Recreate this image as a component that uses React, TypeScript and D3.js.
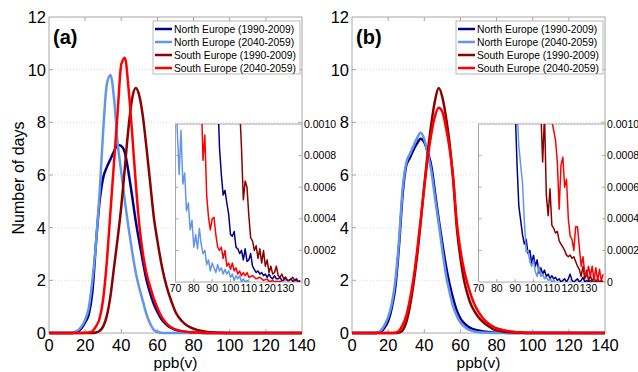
import { useEffect, useRef } from 'react';
import * as d3 from 'd3';

const seriesNames = [
  'North Europe (1990-2009)',
  'North Europe (2040-2059)',
  'South Europe (1990-2009)',
  'South Europe (2040-2059)',
];
const seriesColors = ['#00008b', '#6495ed', '#8b0000', '#ff0000'];

const xTicks = [0, 20, 40, 60, 80, 100, 120, 140];
const yTicks = [0, 2, 4, 6, 8, 10, 12];
const insetXTicks = [70, 80, 90, 100, 110, 120, 130];
const insetYTicks = [0, 2, 4, 6, 8, 10]; // in units of 1e-4
const insetYLabels = ['0', '0.0002', '0.0004', '0.0006', '0.0008', '0.0010'];

// ppb(v) grid of the main curves: 0, 12, 14, ..., 98, 140
const densityPpb = [0, ...d3.range(12, 100, 2), 140];

// panel (a) – number of days
const northPastA = [0,
  0, 0.02, 0.06, 0.18, 0.4, 0.7, 1.55, 3.4, 5.0, 5.9,
  6.3, 6.6, 6.9, 7.15, 7.1, 6.85, 6.1, 5.2, 4.25, 3.45,
  2.7, 2.0, 1.5, 1.1, 0.8, 0.55, 0.38, 0.26, 0.18, 0.12,
  0.08, 0.05, 0.035, 0.02, 0.015, 0.01, 0.005, 0, 0, 0,
  0, 0, 0, 0, 0];
const northFutureA = [0,
  0, 0.03, 0.1, 0.25, 0.5, 0.95, 2.0, 3.4, 5.3, 7.7,
  9.45, 9.8, 8.9, 7.2, 6.1, 5.0, 4.0, 3.1, 2.3, 1.7,
  1.2, 0.7, 0.35, 0.12, 0.04, 0.01, 0, 0, 0, 0,
  0, 0, 0, 0, 0, 0, 0, 0, 0, 0,
  0, 0, 0, 0, 0];
const southPastA = [0,
  0, 0, 0, 0, 0, 0, 0, 0.02, 0.08, 0.25,
  0.65, 1.4, 2.5, 3.6, 4.8, 6.3, 7.8, 8.9, 9.3, 9.0,
  8.2, 7.0, 5.7, 4.4, 3.5, 2.7, 2.05, 1.55, 1.15, 0.8,
  0.58, 0.42, 0.3, 0.22, 0.16, 0.12, 0.09, 0.06, 0.04, 0.025,
  0.015, 0.01, 0.005, 0, 0];
const southFutureA = [0,
  0, 0, 0, 0, 0.005, 0.02, 0.07, 0.25, 0.55, 1.3,
  2.7, 4.6, 6.5, 8.4, 10.2, 10.45, 9.3, 7.6, 5.7, 4.1,
  3.0, 2.25, 1.75, 1.3, 0.95, 0.65, 0.45, 0.3, 0.2, 0.14,
  0.1, 0.07, 0.05, 0.03, 0.02, 0.015, 0.01, 0.005, 0, 0,
  0, 0, 0, 0, 0];

// panel (b) – number of days
const northPastB = [0,
  0, 0.01, 0.05, 0.2, 0.45, 0.95, 1.75, 3.3, 5.25, 6.35,
  6.65, 6.95, 7.2, 7.38, 7.25, 6.85, 6.3, 5.3, 4.3, 3.4,
  2.55, 1.85, 1.3, 0.85, 0.55, 0.38, 0.26, 0.18, 0.13, 0.1,
  0.07, 0.05, 0.035, 0.02, 0.013, 0.008, 0.005, 0.002, 0, 0,
  0, 0, 0, 0, 0];
const northFutureB = [0,
  0, 0.02, 0.1, 0.3, 0.6, 1.1, 2.0, 3.5, 5.45, 6.45,
  6.8, 7.1, 7.4, 7.6, 7.35, 6.8, 6.1, 5.1, 4.15, 3.15,
  2.2, 1.55, 1.0, 0.65, 0.4, 0.25, 0.15, 0.09, 0.05, 0.03,
  0.02, 0.012, 0.006, 0.003, 0, 0, 0, 0, 0, 0,
  0, 0, 0, 0, 0];
const southPastB = [0,
  0, 0, 0, 0, 0, 0, 0, 0.02, 0.1, 0.4,
  1.0, 1.85, 2.9, 4.2, 5.6, 6.9, 8.0, 8.85, 9.3, 8.95,
  8.2, 7.2, 5.8, 4.0, 2.85, 2.0, 1.45, 1.05, 0.8, 0.6,
  0.45, 0.33, 0.24, 0.15, 0.1, 0.075, 0.05, 0.035, 0.025, 0.02,
  0.012, 0.008, 0.004, 0, 0];
const southFutureB = [0,
  0, 0, 0, 0, 0, 0, 0.01, 0.08, 0.3, 0.65,
  1.25, 2.05, 3.1, 4.3, 5.55, 6.7, 7.6, 8.25, 8.55, 8.4,
  7.8, 7.0, 5.9, 4.2, 3.15, 2.4, 1.85, 1.4, 1.05, 0.8,
  0.6, 0.45, 0.33, 0.25, 0.18, 0.14, 0.11, 0.08, 0.06, 0.04,
  0.03, 0.02, 0.012, 0.006, 0];

// insets: tail values (x1e-4), one value per ppb(v) starting at the given ppb
const insetStartA = [93, 70, 104, 84];
const insetNorthPastA = [12, 8.5, 6.8, 5.5, 5.8, 5.0, 4.3, 3.0, 2.9, 3.2, 2.2, 2.1, 1.8, 2.0, 1.4, 2.1, 1.3, 1.4, 1.8, 1.0,
  0.8, 0.6, 0.7, 0.5, 0.6, 0.4, 0.5, 0.3, 0.5, 0.3, 0.2, 0.4, 0.2, 0.2, 0.3, 0.1, 0.1, 0.3, 0.1, 0.1,
  0.2, 0.05, 0.1, 0.2, 0, 0.1];
const insetNorthFutureA = [13, 9.5, 6.8, 9.6, 6.2, 6.9, 4.5, 5.0, 3.3, 3.9, 2.2, 3.0, 2.1, 3.4, 2.4, 1.8, 2.0, 1.1, 1.4, 0.7,
  1.2, 0.9, 0.6, 1.1, 0.7, 0.9, 0.5, 0.8, 0.5, 0.7, 0.3, 0.5, 0.1, 0.4, 0.2, 0.4, 0, 0.2, 0, 0.1, 0];
const insetSouthPastA = [14, 11, 8.5, 5.2, 6.4, 6.0, 4.2, 2.8, 2.6, 2.0, 2.3, 1.5, 2.1, 1.2, 2.0, 1.0, 1.4, 0.6, 1.0, 0.5,
  0.6, 1.0, 0.4, 0.3, 0.5, 0.2, 0.3, 0.1, 0.1, 0.2, 0.3, 0.1, 0.1, 0, 0];
const insetSouthFutureA = [12, 7.7, 9.3, 5.5, 4.1, 3.3, 4.0, 4.1, 3.0, 2.2, 2.0, 2.2, 1.5, 2.0, 1.0, 1.2, 0.8, 1.2, 0.7, 0.9,
  0.5, 0.7, 0.4, 0.6, 0.4, 0.6, 0.3, 0.35, 0.4, 0.3, 0.2, 0.25, 0.3, 0.2, 0.1, 0.15, 0.2, 0.05, 0.05, 0.1,
  0, 0.05, 0, 0.05, 0];

const insetStartB = [90, 91, 104, 110];
const insetNorthPastB = [11, 7.5, 4.8, 3.9, 3.0, 2.4, 2.7, 1.8, 2.0, 1.2, 1.7, 1.0, 1.4, 0.55, 0.9, 0.5, 0.75, 0.35, 0.5, 0.2,
  0.4, 0.2, 0.3, 0.1, 0.2, 0, 0.1, 0.2, 0, 0.2, 0.5, 0.1, 0, 0.1, 0.2, 0, 0.1, 0.3, 0, 0.1,
  0, 0.1, 0, 0, 0, 0, 0, 0, 0];
const insetNorthFutureB = [11, 8.6, 7.4, 6.3, 3.9, 1.9, 2.0, 1.3, 1.0, 1.4, 0.65, 0.35, 1.0, 0.35, 0.5, 0.2, 0.3, 0.1, 0.2, 0,
  0.1, 0];
const insetSouthPastB = [10.8, 7.6, 10.6, 5.5, 4.2, 5.9, 3.6, 3.4, 3.1, 3.2, 2.6, 2.4, 2.2, 2.0, 1.7, 1.6, 1.7, 1.5, 1.6, 1.3,
  1.0, 0.8, 0.35, 1.0, 0.2, 0.75, 0.1, 0.4, 0.05, 0.3, 0, 0.2, 0, 0.1, 0];
const insetSouthFutureB = [10.2, 9.6, 9.0, 7.6, 4.6, 7.4, 7.9, 6.0, 6.5, 4.0, 2.9, 2.7, 2.0, 3.5, 3.5, 2.2, 1.0, 1.6, 0.5, 0.35,
  1.0, 0.35, 1.0, 0.1, 0.9, 0.1, 0.8, 0.1, 0.5];

const panels = [
  {
    label: '(a)',
    left: 49,
    curves: [northPastA, northFutureA, southPastA, southFutureA],
    insetStarts: insetStartA,
    inset: [insetNorthPastA, insetNorthFutureA, insetSouthPastA, insetSouthFutureA],
  },
  {
    label: '(b)',
    left: 352,
    curves: [northPastB, northFutureB, southPastB, southFutureB],
    insetStarts: insetStartB,
    inset: [insetNorthPastB, insetNorthFutureB, insetSouthPastB, insetSouthFutureB],
  },
];

const font = '"Liberation Sans", Arial, Helvetica, sans-serif';
const frameColor = '#a8a8a8';

export default function App() {
  const svgRef = useRef<SVGSVGElement>(null);

  useEffect(() => {
    if (!svgRef.current) return;
    const svg = d3.select(svgRef.current);
    svg.selectAll('*').remove();

    const plotW = 253;
    const top = 17;
    const bottom = 333;

    panels.forEach((p, pi) => {
      const x = d3.scaleLinear().domain([0, 140]).range([p.left, p.left + plotW]);
      const y = d3.scaleLinear().domain([0, 12]).range([bottom, top]);
      const g = svg.append('g');

      // grid
      g.selectAll('line.grid')
        .data(yTicks.slice(1, -1))
        .join('line')
        .attr('x1', x(0)).attr('x2', x(140))
        .attr('y1', d => y(d)).attr('y2', d => y(d))
        .attr('stroke', '#d9d9d9')
        .attr('stroke-dasharray', '1,2');

      // frame
      g.append('rect')
        .attr('x', x(0)).attr('y', y(12))
        .attr('width', x(140) - x(0)).attr('height', y(0) - y(12))
        .attr('fill', 'none').attr('stroke', frameColor);

      // inward ticks
      xTicks.slice(1, -1).forEach(t => {
        g.append('line').attr('x1', x(t)).attr('x2', x(t)).attr('y1', y(0)).attr('y2', y(0) - 4).attr('stroke', frameColor);
        g.append('line').attr('x1', x(t)).attr('x2', x(t)).attr('y1', y(12)).attr('y2', y(12) + 4).attr('stroke', frameColor);
      });
      yTicks.slice(1, -1).forEach(t => {
        g.append('line').attr('x1', x(0)).attr('x2', x(0) + 4).attr('y1', y(t)).attr('y2', y(t)).attr('stroke', frameColor);
        g.append('line').attr('x1', x(140)).attr('x2', x(140) - 4).attr('y1', y(t)).attr('y2', y(t)).attr('stroke', frameColor);
      });

      // tick labels
      g.selectAll('text.xt')
        .data(xTicks)
        .join('text')
        .attr('x', d => x(d)).attr('y', y(0) + 18)
        .attr('text-anchor', 'middle')
        .attr('font-family', font).attr('font-size', 16.5)
        .text(d => d);
      g.selectAll('text.yt')
        .data(yTicks)
        .join('text')
        .attr('x', x(0) - 3).attr('y', d => y(d) + 6)
        .attr('text-anchor', 'end')
        .attr('font-family', font).attr('font-size', 16.5)
        .text(d => d);

      g.append('text')
        .attr('x', (x(0) + x(140)) / 2).attr('y', 368)
        .attr('text-anchor', 'middle')
        .attr('font-family', font).attr('font-size', 15.5)
        .text('ppb(v)');

      if (pi === 0) {
        svg.append('text')
          .attr('transform', `translate(24,${(top + bottom) / 2 + 3}) rotate(-90)`)
          .attr('text-anchor', 'middle')
          .attr('font-family', font).attr('font-size', 16)
          .text('Number of days');
      }

      // curves
      const line = d3.line<number>()
        .x((_, i) => x(densityPpb[i]))
        .y(d => y(d))
        .curve(d3.curveMonotoneX);
      p.curves.forEach((c, i) => {
        g.append('path')
          .attr('d', line(c))
          .attr('fill', 'none')
          .attr('stroke', seriesColors[i])
          .attr('stroke-width', 2.5)
          .attr('stroke-linejoin', 'round');
      });

      // panel label
      g.append('text')
        .attr('x', x(0) + 4).attr('y', 44)
        .attr('font-family', font).attr('font-size', 20).attr('font-weight', 'bold')
        .text(p.label);

      // inset
      const ix = d3.scaleLinear().domain([70, 139]).range([x(70), x(140)]);
      const iy = d3.scaleLinear().domain([0, 10]).range([282, 124]);
      const clipId = `inset-clip-${pi}`;
      svg.append('clipPath').attr('id', clipId)
        .append('rect')
        .attr('x', ix(70)).attr('y', iy(10))
        .attr('width', ix(139) - ix(70)).attr('height', iy(0) - iy(10));

      const ig = g.append('g');
      ig.append('rect')
        .attr('x', ix(70)).attr('y', iy(10))
        .attr('width', ix(139) - ix(70)).attr('height', iy(0) - iy(10))
        .attr('fill', 'white').attr('stroke', frameColor);

      insetXTicks.slice(1).forEach(t => {
        ig.append('line').attr('x1', ix(t)).attr('x2', ix(t)).attr('y1', iy(0)).attr('y2', iy(0) - 3).attr('stroke', frameColor);
      });
      insetYTicks.slice(1, -1).forEach(t => {
        ig.append('line').attr('x1', ix(70)).attr('x2', ix(70) + 3).attr('y1', iy(t)).attr('y2', iy(t)).attr('stroke', frameColor);
        ig.append('line').attr('x1', ix(139)).attr('x2', ix(139) - 3).attr('y1', iy(t)).attr('y2', iy(t)).attr('stroke', frameColor);
      });

      ig.selectAll('text.ixt')
        .data(insetXTicks)
        .join('text')
        .attr('x', d => ix(d)).attr('y', iy(0) + 10)
        .attr('text-anchor', 'middle')
        .attr('font-family', font).attr('font-size', 10.5)
        .text(d => d);
      ig.selectAll('text.iyt')
        .data(insetYTicks)
        .join('text')
        .attr('x', ix(139) + 2).attr('y', d => iy(d) + 3.5)
        .attr('font-family', font).attr('font-size', 10.5)
        .text((_, i) => insetYLabels[i]);

      const lines = ig.append('g').attr('clip-path', `url(#${clipId})`);
      p.inset.forEach((vals, si) => {
        const start = p.insetStarts[si];
        const gen = d3.line<number>()
          .x((_, i) => ix(start + i))
          .y(d => iy(d));
        lines.append('path')
          .attr('d', gen(vals))
          .attr('fill', 'none')
          .attr('stroke', seriesColors[si])
          .attr('stroke-width', 1.5)
          .attr('stroke-linejoin', 'round');
      });

      // legend
      const lx = x(140) - 149;
      const ly = 21;
      const lg = g.append('g');
      lg.append('rect')
        .attr('x', lx).attr('y', ly)
        .attr('width', 147).attr('height', 53)
        .attr('fill', 'white').attr('stroke', frameColor).attr('stroke-width', 0.8);
      seriesNames.forEach((name, i) => {
        const ry = ly + 8 + i * 13;
        lg.append('line')
          .attr('x1', lx + 2).attr('x2', lx + 19)
          .attr('y1', ry).attr('y2', ry)
          .attr('stroke', seriesColors[i]).attr('stroke-width', 2.5);
        lg.append('text')
          .attr('x', lx + 21).attr('y', ry + 3.7)
          .attr('font-family', font).attr('font-size', 10.3)
          .text(name);
      });
    });
  }, []);

  return (
    <svg
      ref={svgRef}
      width={638}
      height={372}
      style={{ position: 'absolute', left: 0, top: 0, background: 'white' }}
    />
  );
}
